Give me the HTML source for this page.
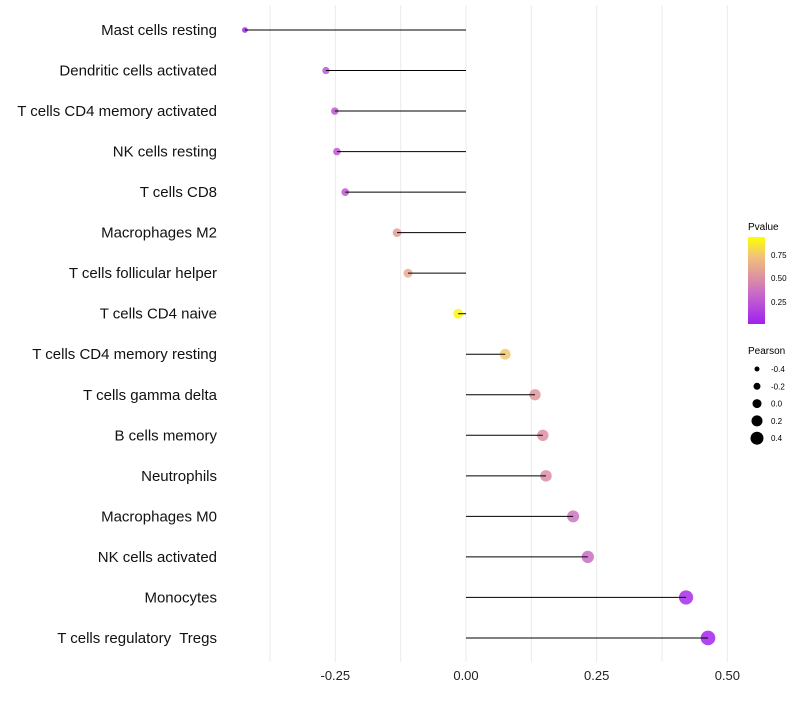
<!DOCTYPE html>
<html><head><meta charset="utf-8"><style>
body{margin:0;background:#fff;font-family:"Liberation Sans",sans-serif}
</style></head><body>
<svg id="chart" width="800" height="700" xmlns="http://www.w3.org/2000/svg" font-family="Liberation Sans, sans-serif">
<defs><linearGradient id="pg" x1="0" y1="1" x2="0" y2="0">
<stop offset="0" stop-color="#a020f0"/><stop offset="0.35" stop-color="#c86ac8"/><stop offset="0.55" stop-color="#de949e"/><stop offset="0.78" stop-color="#f2c27a"/><stop offset="1" stop-color="#ffff00"/></linearGradient></defs>
<g id="grid"></g><g id="marks"></g><g id="labels"></g>
<g>
<text x="748" y="230" font-size="10">Pvalue</text>
<rect x="748" y="237" width="17" height="87" fill="url(#pg)"/>
<text x="771" y="258" font-size="8">0.75</text>
<text x="771" y="281" font-size="8">0.50</text>
<text x="771" y="305" font-size="8">0.25</text>
</g>
<g id="sizeleg">
<text x="748" y="354" font-size="10">Pearson</text>
</g>
</svg>
<script>
const categories=["Mast cells resting","Dendritic cells activated","T cells CD4 memory activated","NK cells resting","T cells CD8","Macrophages M2","T cells follicular helper","T cells CD4 naive","T cells CD4 memory resting","T cells gamma delta","B cells memory","Neutrophils","Macrophages M0","NK cells activated","Monocytes","T cells regulatory  Tregs"];
const pearson=[-0.423,-0.268,-0.251,-0.247,-0.231,-0.132,-0.111,-0.015,0.075,0.132,0.147,0.153,0.205,0.233,0.421,0.463];
const pvalue=[0.04,0.26,0.26,0.27,0.28,0.6,0.66,0.97,0.8,0.56,0.53,0.52,0.4,0.36,0.05,0.03];
const xTicks=[-0.25,0,0.25,0.5];
const xTickLabels=["-0.25","0.00","0.25","0.50"];
const gridVals=[-0.375,-0.25,-0.125,0,0.125,0.25,0.375,0.5];
const sizeLegend=[-0.4,-0.2,0,0.2,0.4];
const NS="http://www.w3.org/2000/svg";
const x=v=>466+v*522.7;
const y=i=>30+i*40.53;
const r=p=>Math.max(1.5,5+5*p);
function mix(a,b,t){return a.map((c,k)=>Math.round(c+(b[k]-c)*t));}
function col(p){const st=[[0,[160,32,240]],[0.35,[200,106,200]],[0.55,[222,148,158]],[0.78,[242,194,122]],[1,[255,255,0]]];
 for(let k=0;k<st.length-1;k++){if(p<=st[k+1][0]){const t=(p-st[k][0])/(st[k+1][0]-st[k][0]);const c=mix(st[k][1],st[k+1][1],t);return `rgb(${c})`;}}return "rgb(255,255,0)";}
function mk(t,a,par){const e=document.createElementNS(NS,t);for(const k in a)e.setAttribute(k,a[k]);document.getElementById(par).appendChild(e);return e;}
gridVals.forEach(v=>{const e=mk("line",{x1:x(v),x2:x(v),y1:5,y2:662,stroke:"#ebebeb","stroke-width":1},"grid");

});
xTicks.forEach((v,i)=>{const t=mk("text",{x:x(v),y:680,"font-size":13,"text-anchor":"middle",fill:"#222"},"labels");t.textContent=xTickLabels[i];

});
categories.forEach((c,i)=>{
 const t=mk("text",{x:217,y:y(i)+5,"font-size":15,"text-anchor":"end",fill:"#111"},"labels");t.textContent=c;
 t.setAttribute('style','white-space:pre');
 
 
 const d=mk("circle",{cx:x(pearson[i]),cy:y(i),r:r(pearson[i]),fill:col(pvalue[i]),"fill-opacity":0.85},"marks");
 
 
 const l=mk("line",{x1:x(0),x2:x(pearson[i]),y1:y(i),y2:y(i),stroke:"#000","stroke-width":1},"marks");
 
 
});
sizeLegend.forEach((p,i)=>{const cy=369+i*17.3;
 const c=mk("circle",{cx:757,cy:cy,r:r(p)-0.5,fill:"#000"},"sizeleg");
 
 
 const t=mk("text",{x:771,y:cy+3,"font-size":8},"sizeleg");t.textContent=p.toFixed(1);
 
 });
</script>
</body></html>
